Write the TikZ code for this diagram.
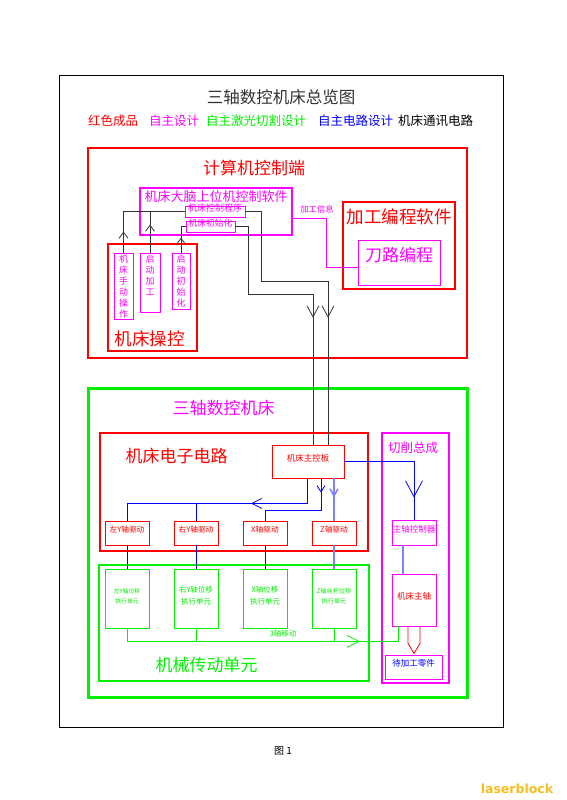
\documentclass[tikz,border=0pt]{standalone}
\usepackage{fontspec}
\setmainfont{Noto Sans CJK SC}
\newfontfamily\wmfont{DejaVu Sans}
\usetikzlibrary{fit,arrows.meta,decorations.markings}
\definecolor{cred}{RGB}{255,0,0}
\definecolor{cmag}{RGB}{255,0,255}
\definecolor{cgrn}{RGB}{0,240,0}
\definecolor{cblu}{RGB}{0,0,255}
\definecolor{lblu}{RGB}{128,128,255}
\definecolor{cgry}{RGB}{50,50,50}
\definecolor{wmc}{RGB}{245,190,30}
\newcommand\fz[1]{\fontsize{#1pt}{#1pt}\selectfont}
\newcommand\vtxt{\fontsize{9pt}{11pt}\selectfont}
\tikzset{
  bigbox/.style={draw=#1, line width=2.5pt, inner sep=0pt},
  thinbox/.style={draw=#1, line width=0.8pt, inner sep=0pt},
  lbl/.style={inner sep=0pt},
  barb/.style n args={3}{postaction={decorate,decoration={markings,
     mark=at position #1 with {\arrow{Straight Barb[length=#2,width=#3]}}}}},
  blk/.style={cgry, line width=0.8pt},
  blu/.style={cblu, line width=0.8pt},
  grn/.style={cgrn, line width=0.8pt},
}
\begin{document}
\begin{tikzpicture}[x=1pt,y=-1pt]
\useasboundingbox (0,0) rectangle (566,800);
\node[fit={(59,75)(503,727)}, draw=black, line width=0.8pt, inner sep=0pt] (page) {};
\node[lbl, font=\fz{16.5}, text=cgry] (title) at (281,97) {三轴数控机床总览图};
\node[lbl, anchor=west, font=\fz{12.5}, text=cred] (lg1) at (88,121) {红色成品};
\node[lbl, anchor=west, font=\fz{12.5}, text=cmag] (lg2) at (149,121) {自主设计};
\node[lbl, anchor=west, font=\fz{12.5}, text=cgrn] (lg3) at (206,121) {自主激光切割设计};
\node[lbl, anchor=west, font=\fz{12.5}, text=cblu] (lg4) at (318,121) {自主电路设计};
\node[lbl, anchor=west, font=\fz{12.5}, text=black] (lg5) at (398,121) {机床通讯电路};

% computer control end
\node[bigbox=cred, fit={(88,148)(467,358)}] (pc) {};
\node[lbl, font=\fz{17}, text=cred] (pct) at (254,168) {计算机控制端};
\node[draw=cmag, line width=2pt, inner sep=0pt, fit={(140,188)(292,235)}] (soft) {};
\node[lbl, font=\fz{13}, text=cmag] (softt) at (216,196.5) {机床大脑上位机控制软件};
\node[thinbox=cmag, fit={(185,206)(245,217)}, font=\fz{9}, text=cmag] (ctrl) {机床控制程序};
\node[thinbox=cmag, fit={(186,221)(235,232)}, font=\fz{8.8}, text=cmag] (init) {机床初始化};

\node[bigbox=cred, fit={(108,244)(197,351)}] (op) {};
\node[lbl, font=\fz{17.5}, text=cred] (opt) at (149.5,339) {机床操控};
\node[thinbox=cmag, fit={(114,253)(133,319)}] (man) {};
\node[lbl, anchor=north, align=center, font=\vtxt, text=cmag] (mant) at ([yshift=-2pt]man.north) {机\\床\\手\\动\\操\\作};
\node[thinbox=cmag, fit={(140,253)(160,312)}] (sp) {};
\node[lbl, anchor=north, align=center, font=\vtxt, text=cmag] (spt) at ([yshift=-2pt]sp.north) {启\\动\\加\\工};
\node[thinbox=cmag, fit={(172,253)(190,309)}] (si) {};
\node[lbl, anchor=north, align=center, font=\vtxt, text=cmag] (sit) at ([yshift=-2pt]si.north) {启\\动\\初\\始\\化};

\node[bigbox=cred, fit={(343,202)(455,289)}] (code) {};
\node[lbl, font=\fz{17.5}, text=cred] (codet) at (399,217) {加工编程软件};
\node[thinbox=cmag, fit={(358,240)(440,285)}, font=\fz{17}, text=cmag] (dl) {刀路编程};

% machine
\node[draw=cgrn, line width=3pt, inner sep=0pt, fit={(88,388)(467,697)}] (mc) {};
\node[lbl, font=\fz{17}, text=cmag] (mct) at (223.5,408) {三轴数控机床};
\node[bigbox=cred, fit={(100,433)(368,551)}] (ec) {};
\node[lbl, font=\fz{17}, text=cred] (ect) at (176.5,456) {机床电子电路};
\node[thinbox=cred, fit={(272,445)(344,478)}, font=\fz{8.5}, text=cred] (board) {机床主控板};
\node[thinbox=cred, fit={(105,521)(149,545)}, font=\fz{7.7}, text=cred] (ly) {左Y轴驱动};
\node[thinbox=cred, fit={(174,521)(218,545)}, font=\fz{7.7}, text=cred] (ry) {右Y轴驱动};
\node[thinbox=cred, fit={(243,521)(287,545)}, font=\fz{7.7}, text=cred] (xd) {X轴驱动};
\node[thinbox=cred, fit={(312,521)(356,545)}, font=\fz{7.7}, text=cred] (zd) {Z轴驱动};

\node[draw=cgrn, line width=2.5pt, inner sep=0pt, fit={(99,565)(369,681)}] (mech) {};
\node[thinbox=cgrn, fit={(105,569)(149,628)}, align=center, font={\fontsize{5.8pt}{9.5pt}\selectfont}, text=cgrn] (lm) {左Y轴位移\\执行单元};
\node[thinbox=cgrn, fit={(174,569)(218,628)}, align=center, font={\fontsize{7.5pt}{12pt}\selectfont}, text=cgrn] (rm) {右Y轴位移\\执行单元};
\node[thinbox=cgrn, fit={(243,569)(287,628)}, align=center, font={\fontsize{7.5pt}{12pt}\selectfont}, text=cgrn] (xm) {X轴位移\\执行单元};
\node[thinbox=cgrn, fit={(312,569)(356,628)}, align=center, font={\fontsize{6.2pt}{10pt}\selectfont}, text=cgrn] (zm) {Z轴丝杆位移\\执行单元};
\node[lbl, font=\fz{7.5}, text=cgrn] (mv) at (283,634) {3轴移动};
\node[lbl, font=\fz{17}, text=cgrn] (mecht) at (206.5,665) {机械传动单元};

\node[draw=cmag, line width=2.5pt, inner sep=0pt, fit={(382,433)(449,683)}] (cut) {};
\node[lbl, font=\fz{12.5}, text=cmag] (cutt) at (413,448) {切削总成};
\node[thinbox=cmag, fit={(392,520)(436,545)}, font=\fz{8.5}, text=cmag] (spc) {主轴控制器};
\node[thinbox=cmag, fit={(392,574)(436,626)}, font=\fz{8.5}, text=cred] (spin) {机床主轴};
\node[thinbox=cmag, fit={(385,655)(442,679)}, font=\fz{8.5}, text=cblu] (part) {待加工零件};

% black connectors
\draw[blk, barb={21pt}{6pt}{9pt}] (man.north) |- (ctrl.west);
\draw[blk, barb={28pt}{6pt}{9pt}] (sp.north) -- (sp.north |- ctrl.west);
\draw[blk, barb={15pt}{6pt}{9pt}] (si.north) |- (init.west);
\draw[blk, barb={-127pt}{11pt}{12pt}] (ctrl.east) -| (261,281) -| ([xshift=20pt]board.north);
\draw[blk, barb={-127pt}{11pt}{12pt}] (init.east) -| (248,294) -| ([xshift=5pt]board.north);

% magenta info line
\draw[cmag, line width=0.7pt] ([yshift=-6.5pt]soft.east) -| (326,267.5) -- ([yshift=-5pt]dl.west);
\node[lbl, font=\fz{8.3}, text=cmag] (info) at (317,209) {加工信息};

% blue connectors
\draw[blu, barb={-22pt}{16pt}{17pt}] (board.east) -| (spc.north);
\draw[blu, barb={81pt}{10pt}{10pt}] ([xshift=-1pt]board.south) -- ++(0,25) -| (ly.north);
\draw[blu] (ry.north) -- ++(0,-18);
\draw[blu, barb={14pt}{6pt}{8pt}] ([xshift=13pt]board.south) -- ++(0,32) -| (xd.north);
\draw[lblu, line width=1.5pt, barb={19pt}{7pt}{8pt}] ([xshift=26pt]board.south) -- (zd.north);
\draw[blu] (ly.south) -- (lm.north);
\draw[blu] (ry.south) -- (rm.north);
\draw[blu] (xd.south) -- (xm.north);
\draw[lblu, line width=1.5pt] (zd.south) -- (zm.north);
\draw[lblu, line width=1.2pt] ([xshift=-11pt]spc.south) -- ([xshift=-11pt]spin.north);

% green connectors
\draw[grn, barb={-53pt}{12pt}{12pt}] (lm.south) -- ++(0,13) -| ([xshift=-16pt]spin.south);
\draw[grn] (rm.south) -- ++(0,13);
\draw[grn] (zm.south) -- ++(0,13);

% hollow red arrow
\draw[cred, line width=0.8pt] ([xshift=-6pt]spin.south) -- ++(0,17) -- ++(6,10) -- ++(6,-10) -- ++(0,-17);

\node[lbl, font=\fz{10}] (fig) at (283,751) {图 1};
\node[lbl, font=\wmfont\bfseries\fz{12.5}, text=wmc] (wm) at (517,789) {laserblock};
\end{tikzpicture}
\end{document}
